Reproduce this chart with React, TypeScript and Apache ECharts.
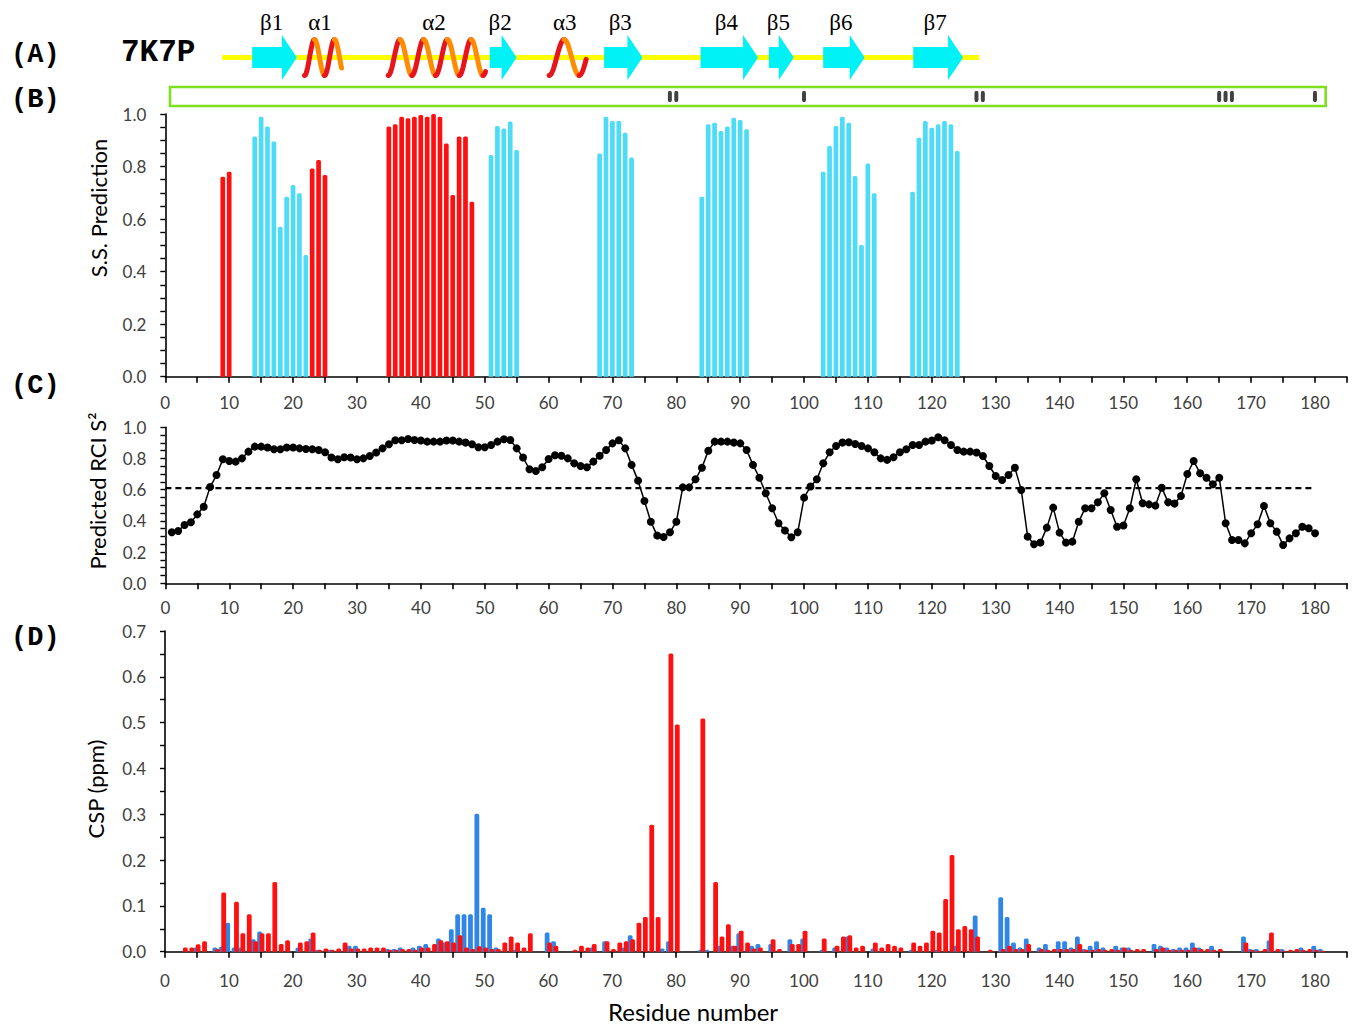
import { useEffect, useRef } from 'react';
import * as echarts from 'echarts';

// ---------- Panel A: secondary structure of 7K7P (residue ranges) ----------
const ssLabels = ['β1', 'α1', 'α2', 'β2', 'α3', 'β3', 'β4', 'β5', 'β6', 'β7'];
const ssTypes = ['strand', 'helix', 'helix', 'strand', 'helix', 'strand', 'strand', 'strand', 'strand', 'strand'];
const ssStart = [13.6, 21.8, 34.9, 50.8, 60.1, 68.7, 83.8, 94.5, 103.0, 117.1];
const ssEnd = [20.6, 27.6, 50.2, 55.0, 65.9, 74.7, 92.8, 98.4, 109.5, 124.9];
const coilRange = [8.9, 127.4];

// ---------- Panel B: marks in the green box ----------
const markResidues = [79, 80, 100, 127, 128, 165, 166, 167, 180];

// ---------- Panel B: S.S. prediction ----------
const helixResidues = [9, 10, 23, 24, 25, 35, 36, 37, 38, 39, 40, 41, 42, 43, 44, 45, 46, 47, 48];
const helixValues = [0.761, 0.78, 0.793, 0.825, 0.768, 0.952, 0.961, 0.99, 0.984, 0.99, 0.996, 0.99, 1.0, 0.99, 0.888, 0.692, 0.914, 0.914, 0.666];
const strandResidues = [
  14, 15, 16, 17, 18, 19, 20, 21, 22,
  51, 52, 53, 54, 55,
  68, 69, 70, 71, 72, 73,
  84, 85, 86, 87, 88, 89, 90, 91,
  103, 104, 105, 106, 107, 108, 109, 110, 111,
  117, 118, 119, 120, 121, 122, 123, 124,
];
const strandValues = [
  0.914, 0.99, 0.952, 0.895, 0.571, 0.685, 0.73, 0.698, 0.463,
  0.844, 0.954, 0.945, 0.971, 0.863,
  0.85, 0.99, 0.973, 0.973, 0.929, 0.834,
  0.685, 0.961, 0.967, 0.935, 0.952, 0.986, 0.977, 0.942,
  0.78, 0.878, 0.954, 0.99, 0.967, 0.764, 0.501, 0.812, 0.698,
  0.704, 0.91, 0.973, 0.948, 0.961, 0.973, 0.961, 0.859,
];

// ---------- Panel C: predicted RCI S2 (residues 1..180) ----------
const rciValues = [
  0.327, 0.335, 0.374, 0.391, 0.442, 0.491, 0.617, 0.694, 0.795, 0.784,
  0.78, 0.801, 0.844, 0.876, 0.876, 0.87, 0.859, 0.859, 0.87, 0.87,
  0.865, 0.861, 0.859, 0.855, 0.84, 0.806, 0.795, 0.808, 0.806, 0.795,
  0.801, 0.816, 0.838, 0.865, 0.891, 0.917, 0.917, 0.925, 0.919, 0.915,
  0.908, 0.908, 0.908, 0.915, 0.915, 0.908, 0.902, 0.891, 0.872, 0.872,
  0.887, 0.908, 0.923, 0.919, 0.865, 0.806, 0.731, 0.72, 0.744, 0.797,
  0.821, 0.818, 0.801, 0.769, 0.752, 0.744, 0.78, 0.818, 0.855, 0.897,
  0.917, 0.865, 0.759, 0.658, 0.528, 0.395, 0.306, 0.297, 0.327, 0.395,
  0.615, 0.615, 0.667, 0.741, 0.85, 0.908, 0.908, 0.908, 0.902, 0.897,
  0.855, 0.759, 0.677, 0.577, 0.481, 0.385, 0.338, 0.295, 0.327, 0.549,
  0.62, 0.667, 0.769, 0.84, 0.88, 0.902, 0.904, 0.893, 0.88, 0.865,
  0.84, 0.801, 0.791, 0.808, 0.84, 0.859, 0.887, 0.887, 0.908, 0.915,
  0.936, 0.917, 0.887, 0.855, 0.844, 0.844, 0.838, 0.816, 0.752, 0.688,
  0.662, 0.694, 0.741, 0.598, 0.299, 0.25, 0.261, 0.357, 0.485, 0.325,
  0.261, 0.267, 0.395, 0.481, 0.481, 0.519, 0.577, 0.47, 0.363, 0.37,
  0.481, 0.667, 0.513, 0.506, 0.498, 0.613, 0.519, 0.511, 0.56, 0.701,
  0.784, 0.705, 0.677, 0.635, 0.677, 0.385, 0.278, 0.278, 0.256, 0.321,
  0.378, 0.496, 0.385, 0.331, 0.246, 0.288, 0.321, 0.363, 0.353, 0.321,
];
const rciThreshold = 0.61;
const rciThresholdRange = [0, 180];

// ---------- Panel D: CSP ----------
const cspBlueResidues = [
  5, 8, 9, 10, 11, 12, 14, 15, 21, 23, 24, 26, 29, 30, 35, 36, 37, 39, 40, 41,
  43, 44, 45, 46, 47, 48, 49, 50, 51, 52, 55, 60, 61, 67, 69, 72, 73, 78, 79, 84,
  85, 87, 89, 90, 92, 93, 95, 98, 100, 103, 105, 107, 111, 117, 121, 124, 127, 131, 132, 133,
  134, 135, 137, 138, 140, 141, 142, 143, 144, 145, 146, 147, 149, 150, 151, 155, 156, 157, 158, 159,
  160, 161, 162, 164, 169, 170, 171, 173, 175, 178, 180, 181,
];
const cspBlueValues = [
  0.009, 0.009, 0.011, 0.063, 0.009, 0.009, 0.027, 0.044, 0.009, 0.029, 0.004, 0.004, 0.013, 0.013, 0.006, 0.006, 0.009, 0.009, 0.013, 0.017,
  0.029, 0.02, 0.049, 0.082, 0.082, 0.082, 0.301, 0.096, 0.082, 0.009, 0.004, 0.042, 0.023, 0.009, 0.023, 0.009, 0.036, 0.007, 0.023, 0.004,
  0.004, 0.013, 0.013, 0.04, 0.013, 0.017, 0.017, 0.027, 0.029, 0.004, 0.009, 0.033, 0.007, 0.004, 0.004, 0.013, 0.079, 0.119, 0.076, 0.02,
  0.009, 0.029, 0.009, 0.017, 0.023, 0.023, 0.009, 0.033, 0.006, 0.013, 0.023, 0.009, 0.013, 0.009, 0.009, 0.017, 0.013, 0.009, 0.006, 0.009,
  0.009, 0.02, 0.009, 0.013, 0.033, 0.006, 0.006, 0.025, 0.006, 0.009, 0.013, 0.006,
];
const cspRedResidues = [
  3, 4, 5, 6, 8, 9, 11, 12, 13, 14, 15, 16, 17, 18, 19, 21, 22, 23, 24, 25,
  26, 27, 28, 29, 30, 31, 32, 33, 34, 35, 36, 37, 38, 39, 40, 41, 42, 43, 44, 45,
  46, 47, 48, 49, 50, 51, 52, 53, 54, 55, 56, 57, 60, 61, 64, 65, 66, 67, 69, 70,
  71, 72, 73, 74, 75, 76, 77, 79, 80, 84, 86, 87, 88, 89, 90, 91, 92, 93, 95, 96,
  98, 99, 100, 103, 105, 106, 107, 108, 109, 111, 112, 113, 114, 115, 117, 118, 119, 120, 121, 122,
  123, 124, 125, 126, 127, 129, 131, 132, 133, 134, 135, 137, 138, 139, 140, 141, 142, 143, 144, 145,
  146, 147, 148, 149, 150, 151, 152, 153, 155, 156, 157, 158, 159, 160, 161, 162, 163, 164, 165, 169,
  170, 171, 172, 173, 174, 175, 176, 177, 178, 179, 180, 181,
];
const cspRedValues = [
  0.009, 0.009, 0.016, 0.023, 0.006, 0.129, 0.109, 0.04, 0.082, 0.023, 0.04, 0.04, 0.152, 0.017, 0.025, 0.02, 0.023, 0.042, 0.004, 0.007,
  0.004, 0.007, 0.02, 0.007, 0.007, 0.007, 0.009, 0.009, 0.009, 0.004, 0.004, 0.006, 0.006, 0.004, 0.009, 0.009, 0.017, 0.025, 0.023, 0.02,
  0.036, 0.009, 0.006, 0.012, 0.009, 0.006, 0.006, 0.02, 0.033, 0.02, 0.009, 0.04, 0.02, 0.013, 0.004, 0.013, 0.009, 0.017, 0.023, 0.006,
  0.02, 0.023, 0.027, 0.063, 0.076, 0.277, 0.076, 0.651, 0.496, 0.509, 0.152, 0.033, 0.06, 0.013, 0.046, 0.02, 0.007, 0.009, 0.027, 0.006,
  0.017, 0.017, 0.046, 0.029, 0.013, 0.033, 0.036, 0.009, 0.013, 0.02, 0.009, 0.017, 0.013, 0.009, 0.02, 0.013, 0.02, 0.046, 0.042, 0.115,
  0.211, 0.049, 0.056, 0.049, 0.033, 0.004, 0.006, 0.013, 0.006, 0.006, 0.017, 0.006, 0.004, 0.006, 0.006, 0.006, 0.006, 0.017, 0.004, 0.004,
  0.006, 0.004, 0.006, 0.004, 0.009, 0.004, 0.006, 0.006, 0.006, 0.009, 0.004, 0.004, 0.004, 0.004, 0.009, 0.006, 0.006, 0.004, 0.006, 0.02,
  0.004, 0.002, 0.006, 0.042, 0.006, 0.002, 0.004, 0.006, 0.004, 0.006, 0.004, 0.002,
];

// ---------- styling ----------
const SANS = 'Lato, "Open Sans", "Noto Sans", sans-serif';
const MONO = '"Liberation Mono", "Courier New", monospace';
const SERIF = '"Liberation Serif", "Times New Roman", serif';
const LABEL_COLOR = '#404040';
const RED = '#ff1010';
const CYAN = '#4ddcf7';
const BLUE = '#2f86e6';
const X_MAX = 185;

const xFormatter = (v: number) => (Math.round(v) % 10 === 0 ? String(Math.round(v)) : '');
const fmtEvery = (step: number) => (v: number) =>
  Math.abs(v / step - Math.round(v / step)) < 1e-6 ? v.toFixed(1) : '';

function xAxisFor(gridIndex: number, margin: number) {
  return {
    type: 'value',
    gridIndex,
    min: 0,
    max: X_MAX,
    interval: 5,
    axisLine: { show: true, onZero: false, lineStyle: { color: '#000', width: 1.6 } },
    axisTick: { show: true, length: 6, lineStyle: { color: '#000', width: 1.6 } },
    axisLabel: { formatter: xFormatter, color: LABEL_COLOR, fontSize: 17, fontFamily: SANS, margin },
    splitLine: { show: false },
  };
}
function yAxisFor(gridIndex: number, max: number, labelStep: number) {
  return {
    type: 'value',
    gridIndex,
    min: 0,
    max,
    interval: 0.05,
    axisLine: { show: true, lineStyle: { color: '#000', width: 1.6 } },
    axisTick: { show: true, length: 5, lineStyle: { color: '#000', width: 1.4 } },
    axisLabel: { formatter: fmtEvery(labelStep), color: LABEL_COLOR, fontSize: 17, fontFamily: SANS, margin: 19 },
    splitLine: { show: false },
  };
}

function buildOption() {
  const pairs = (xs: number[], ys: number[]) => xs.map((x, i) => [x, ys[i]]);
  return {
    animation: false,
    backgroundColor: '#fff',
    grid: [
      { left: 165.3, top: 87, width: 1181.6, height: 19 },
      { left: 165.3, top: 114, width: 1181.6, height: 262.7 },
      { left: 165.4, top: 427.3, width: 1181.6, height: 156 },
      { left: 165, top: 631, width: 1181.9, height: 320.7 },
    ],
    xAxis: [
      { type: 'value', gridIndex: 0, min: 0, max: X_MAX, show: false },
      xAxisFor(1, 17),
      xAxisFor(2, 16),
      xAxisFor(3, 20),
    ],
    yAxis: [
      { type: 'value', gridIndex: 0, min: 0, max: 1, show: false },
      yAxisFor(1, 1, 0.2),
      yAxisFor(2, 1, 0.2),
      yAxisFor(3, 0.7, 0.1),
    ],
    series: [
      {
        type: 'scatter',
        xAxisIndex: 0,
        yAxisIndex: 0,
        data: markResidues.map((r) => [r, 0.5]),
        symbol: 'roundRect',
        symbolSize: [4, 11],
        itemStyle: { color: '#111' },
      },
      {
        type: 'bar',
        name: 'helix',
        xAxisIndex: 1,
        yAxisIndex: 1,
        data: pairs(helixResidues, helixValues),
        barWidth: 4.7,
        barGap: '-100%',
        itemStyle: { color: RED, borderRadius: [1.5, 1.5, 0, 0] },
      },
      {
        type: 'bar',
        name: 'strand',
        xAxisIndex: 1,
        yAxisIndex: 1,
        data: pairs(strandResidues, strandValues),
        barWidth: 4.7,
        barGap: '-100%',
        itemStyle: { color: CYAN, borderRadius: [1.5, 1.5, 0, 0] },
      },
      {
        type: 'line',
        name: 'RCI',
        xAxisIndex: 2,
        yAxisIndex: 2,
        data: rciValues.map((v, i) => [i + 1, v]),
        symbol: 'circle',
        symbolSize: 8,
        showAllSymbol: true,
        itemStyle: { color: '#000' },
        lineStyle: { color: '#000', width: 1.5 },
        z: 3,
      },
      {
        type: 'line',
        name: 'threshold',
        xAxisIndex: 2,
        yAxisIndex: 2,
        data: rciThresholdRange.map((x) => [x, rciThreshold]),
        symbol: 'none',
        lineStyle: { color: '#000', width: 2.4, type: [6, 4] },
        z: 2,
      },
      {
        type: 'bar',
        name: 'CSP blue',
        xAxisIndex: 3,
        yAxisIndex: 3,
        data: pairs(cspBlueResidues, cspBlueValues),
        barWidth: 4.8,
        barGap: '-50%',
        itemStyle: { color: BLUE, borderRadius: [1.5, 1.5, 0, 0] },
      },
      {
        type: 'bar',
        name: 'CSP red',
        xAxisIndex: 3,
        yAxisIndex: 3,
        data: pairs(cspRedResidues, cspRedValues),
        barWidth: 4.8,
        barGap: '-50%',
        itemStyle: { color: RED, borderRadius: [1.5, 1.5, 0, 0] },
      },
    ],
  };
}

function buildGraphics(chart: any) {
  const px = (r: number) => chart.convertToPixel({ xAxisIndex: 1 }, r) as number;
  const cy = 57.5;
  const els: any[] = [];

  // panel letters
  const letters: [string, number][] = [['(A)', 55], ['(B)', 100], ['(C)', 386], ['(D)', 638]];
  letters.forEach(([t, y]) =>
    els.push({
      type: 'text',
      x: 11,
      y,
      style: { text: t, fill: '#000', font: `bold 27px ${MONO}`, align: 'left', verticalAlign: 'middle' },
    })
  );
  els.push({
    type: 'text',
    x: 121,
    y: 52,
    style: { text: '7K7P', fill: '#000', font: `bold 31px ${MONO}`, align: 'left', verticalAlign: 'middle' },
  });

  // axis names
  const yNames: [string, number, number][] = [
    ['S.S. Prediction', 98, 208],
    ['Predicted RCI S²', 97, 491],
    ['CSP (ppm)', 95, 789],
  ];
  yNames.forEach(([t, x, y]) =>
    els.push({
      type: 'text',
      x,
      y,
      rotation: Math.PI / 2,
      style: { text: t, fill: '#000', font: `22px ${SANS}`, align: 'center', verticalAlign: 'middle' },
    })
  );
  els.push({
    type: 'text',
    x: 693,
    y: 1011,
    style: { text: 'Residue number', fill: '#000', font: `24px ${SANS}`, align: 'center', verticalAlign: 'middle' },
  });

  // green box of panel B
  els.push({
    type: 'rect',
    shape: { x: 170, y: 87, width: 1155.7, height: 19 },
    style: { fill: 'none', stroke: '#7ee01e', lineWidth: 2.6 },
    z: 1,
  });

  // coil line
  els.push({
    type: 'line',
    shape: { x1: px(coilRange[0]), y1: cy, x2: px(coilRange[1]), y2: cy },
    style: { stroke: '#ffff00', lineWidth: 5 },
    z: 1,
  });

  ssLabels.forEach((lab, i) => {
    const x0 = px(ssStart[i]);
    const x1 = px(ssEnd[i]);
    if (ssTypes[i] === 'strand') {
      const head = 15;
      const xb = x1 - head;
      els.push({
        type: 'polygon',
        shape: {
          points: [
            [x0, cy - 10.5], [xb, cy - 10.5], [xb, cy - 22.5], [x1, cy],
            [xb, cy + 22.5], [xb, cy + 10.5], [x0, cy + 10.5],
          ],
        },
        style: { fill: '#00f2f6' },
        z: 2,
      });
    } else {
      const period = i === 2 ? 23.7 : i === 4 ? 30 : 20;
      const amp = 18;
      let k = 0;
      while (x0 + (k * period) / 2 < x1 - 0.5) {
        const a = x0 + (k * period) / 2;
        const b = Math.min(x1, a + period / 2);
        const pts: number[][] = [];
        for (let x = a; x <= b + 1e-6; x += 0.5) {
          pts.push([x, cy + amp * Math.cos((2 * Math.PI * (x - x0)) / period)]);
        }
        els.push({
          type: 'polyline',
          shape: { points: pts },
          style: { stroke: k % 2 === 0 ? '#e8141c' : '#ff8c00', lineWidth: 5, lineCap: 'round', fill: null },
          z: 3,
        });
        k++;
      }
    }
    els.push({
      type: 'text',
      x: (x0 + x1) / 2 - 3,
      y: 22,
      style: { text: lab, fill: '#000', font: `23px ${SERIF}`, align: 'center', verticalAlign: 'middle' },
      z: 3,
    });
  });

  return els;
}

export default function App() {
  const ref = useRef<HTMLDivElement>(null);
  useEffect(() => {
    document.body.style.margin = '0';
    const chart = echarts.init(ref.current as HTMLDivElement, null, { renderer: 'svg' });
    chart.setOption(buildOption() as any);
    chart.setOption({ graphic: buildGraphics(chart) } as any);
    return () => chart.dispose();
  }, []);
  return <div ref={ref} style={{ width: 1361, height: 1026 }} />;
}
